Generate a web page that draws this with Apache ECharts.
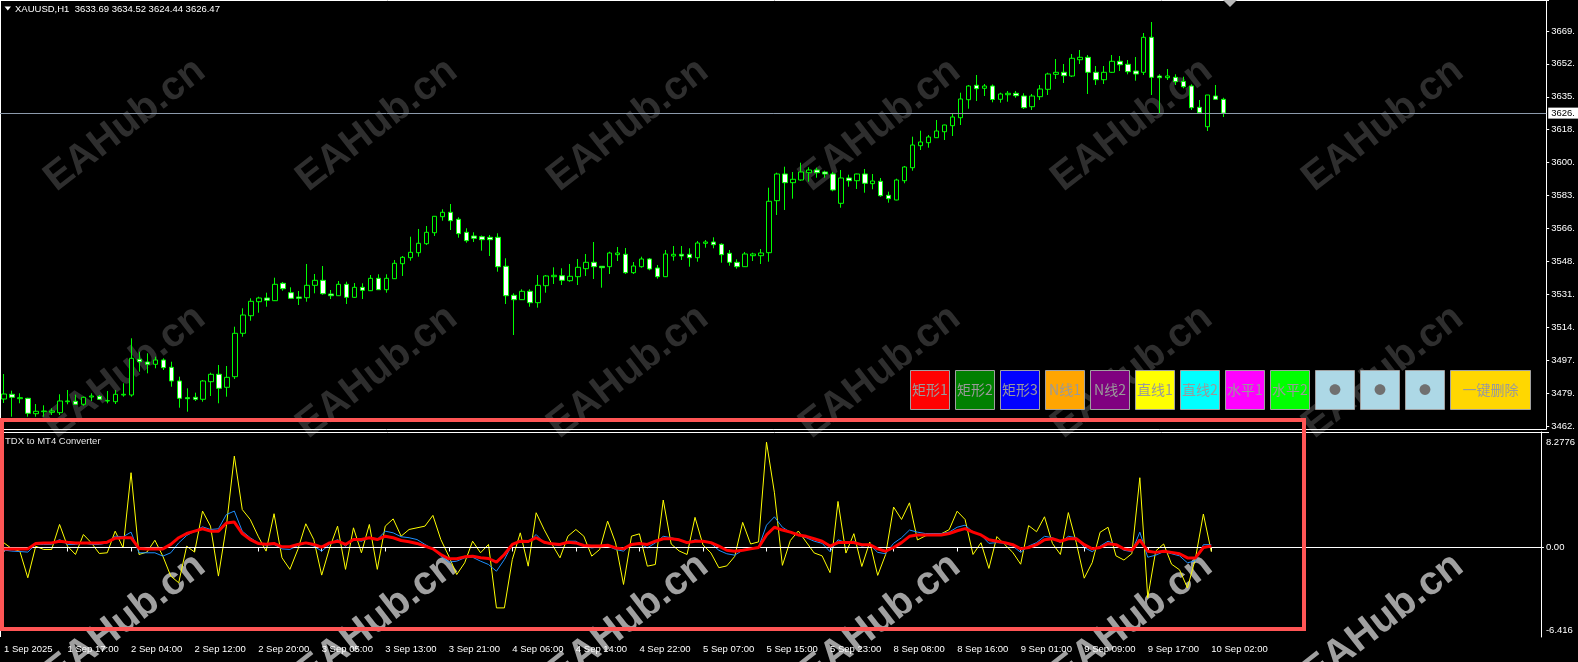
<!DOCTYPE html>
<html>
<head>
<meta charset="utf-8">
<script src="https://cdn.jsdelivr.net/npm/echarts@6/dist/echarts.min.js"></script>
<style>
html,body{margin:0;padding:0;background:#000;}
#chart{width:1578px;height:662px;}
</style>
</head>
<body>
<div id="chart"></div>
<script>
// ---------- DATA ----------
const timeLabels = ['1 Sep 2025','1 Sep 17:00','2 Sep 04:00','2 Sep 12:00','2 Sep 20:00','3 Sep 05:00','3 Sep 13:00','3 Sep 21:00','4 Sep 06:00','4 Sep 14:00','4 Sep 22:00','5 Sep 07:00','5 Sep 15:00','5 Sep 23:00','8 Sep 08:00','8 Sep 16:00','9 Sep 01:00','9 Sep 09:00','9 Sep 17:00','10 Sep 02:00'];
const barsPerLabel = 8;

const open = [3476.65,3479.12,3476.81,3477.02,3468.95,3470.00,3469.69,3469.48,3475.24,3475.45,
3473.88,3477.70,3478.07,3475.61,3475.24,3478.75,3478.75,3497.46,3496.04,3494.84,
3497.09,3493.26,3486.09,3477.34,3477.54,3476.50,3485.72,3489.60,3482.78,3488.34,
3511.08,3520.30,3527.64,3529.58,3528.17,3537.28,3532.36,3530.10,3529.73,3536.23,
3538.85,3531.67,3530.78,3536.76,3529.94,3535.18,3533.40,3539.90,3533.93,3539.69,
3547.55,3550.70,3553.32,3558.04,3563.80,3572.19,3574.50,3570.83,3564.01,3562.07,
3561.71,3561.39,3561.39,3546.20,3530.99,3528.69,3533.09,3527.12,3536.03,3540.75,
3541.27,3538.65,3540.75,3544.94,3548.29,3546.20,3545.99,3552.28,3552.49,3542.84,
3545.99,3550.02,3545.31,3540.75,3551.59,3552.49,3552.49,3550.70,3558.25,3558.93,
3557.73,3553.01,3548.29,3545.99,3551.75,3551.75,3553.32,3580.57,3594.57,3590.01,
3591.42,3595.25,3596.66,3595.62,3594.57,3579.21,3592.47,3591.05,3594.57,3589.49,
3590.74,3583.40,3580.94,3591.05,3597.87,3609.40,3610.97,3613.59,3616.73,3619.88,
3624.07,3633.50,3641.05,3639.48,3640.68,3633.71,3636.12,3636.86,3635.44,3629.83,
3635.08,3638.95,3646.81,3647.86,3645.92,3654.46,3655.72,3647.86,3643.98,3647.86,
3653.63,3652.05,3648.54,3647.86,3666.20,3645.92,3645.03,3645.24,3643.15,3640.68,
3629.52,3619.35,3635.44,3633.69];
const close = [3479.27,3477.54,3477.34,3469.16,3470.21,3470.37,3470.37,3475.61,3475.61,3473.88,
3477.54,3478.23,3476.50,3475.82,3479.12,3479.12,3497.98,3496.20,3494.84,3497.09,
3493.06,3486.09,3477.02,3476.81,3476.50,3486.09,3489.60,3482.26,3488.02,3511.08,
3520.67,3527.85,3529.58,3528.38,3536.76,3534.45,3529.42,3529.42,3536.23,3538.85,
3531.83,3530.78,3536.76,3529.94,3535.18,3533.61,3539.90,3533.93,3539.90,3547.76,
3550.91,3553.53,3558.25,3564.01,3572.40,3574.50,3570.09,3563.28,3559.61,3560.87,
3560.14,3560.14,3545.99,3530.78,3528.69,3533.09,3527.12,3536.23,3541.12,3541.48,
3538.85,3540.96,3545.67,3548.29,3545.99,3545.47,3553.17,3553.17,3542.84,3546.35,
3550.02,3544.78,3540.75,3552.64,3552.49,3551.59,3550.70,3558.41,3558.93,3557.52,
3552.28,3548.29,3545.99,3552.64,3552.64,3553.17,3580.26,3594.57,3590.01,3591.79,
3595.62,3596.66,3595.25,3594.57,3586.18,3592.47,3591.05,3594.57,3589.70,3590.90,
3583.20,3581.62,3591.42,3598.23,3609.76,3611.34,3613.95,3617.10,3620.24,3624.44,
3633.87,3640.68,3639.27,3640.68,3633.61,3636.49,3636.86,3635.60,3629.31,3635.44,
3639.11,3646.97,3647.86,3646.08,3655.20,3655.72,3647.86,3643.98,3647.86,3653.63,
3651.85,3648.18,3646.97,3666.20,3645.24,3645.03,3645.92,3642.94,3640.31,3629.31,
3626.69,3635.97,3633.71,3626.47];
const low = [3474.56,3467.38,3474.40,3467.38,3467.38,3467.38,3468.27,3468.27,3473.88,3473.51,
3473.14,3475.61,3476.13,3474.40,3474.03,3477.86,3477.86,3490.96,3490.12,3492.74,
3491.85,3483.10,3472.10,3470.00,3475.61,3475.24,3478.23,3474.40,3477.86,3487.13,
3509.30,3517.68,3521.87,3525.02,3528.01,3533.40,3529.05,3525.91,3527.64,3532.04,
3531.31,3529.05,3530.63,3526.43,3529.58,3529.05,3533.24,3533.77,3532.36,3539.53,
3541.12,3549.13,3551.23,3557.36,3562.07,3570.09,3565.22,3561.19,3558.56,3558.93,
3554.37,3551.59,3543.37,3526.43,3510.19,3528.54,3525.02,3524.50,3532.36,3536.92,
3536.39,3538.12,3536.39,3541.12,3539.53,3534.98,3542.16,3548.97,3542.16,3542.16,
3545.47,3544.10,3539.70,3540.59,3549.13,3549.50,3545.99,3548.61,3555.94,3555.63,
3548.08,3546.51,3544.94,3545.83,3548.97,3547.40,3548.61,3573.08,3575.70,3581.62,
3591.05,3590.53,3592.63,3592.63,3585.50,3576.91,3587.91,3586.71,3584.77,3586.55,
3582.67,3579.53,3580.79,3589.70,3596.30,3607.14,3608.35,3613.50,3612.38,3614.48,
3620.24,3628.79,3632.82,3635.44,3632.14,3631.93,3632.45,3634.55,3628.63,3628.10,
3633.35,3635.97,3644.35,3642.25,3645.40,3652.21,3636.49,3641.21,3641.73,3647.49,
3648.54,3646.81,3643.46,3646.45,3635.97,3626.37,3643.83,3641.21,3639.48,3628.10,
3626.01,3617.10,3633.71,3624.44];
const high = [3489.75,3481.00,3479.64,3477.30,3474.03,3473.35,3471.78,3479.12,3481.37,3478.91,
3477.86,3479.64,3478.75,3480.85,3481.37,3484.88,3508.46,3501.44,3500.60,3498.82,
3497.98,3496.20,3488.34,3482.26,3479.96,3486.61,3490.43,3494.47,3493.95,3514.54,
3524.18,3529.42,3530.26,3532.36,3540.22,3537.97,3535.18,3533.24,3547.40,3542.16,
3546.35,3533.77,3538.49,3538.12,3537.44,3537.28,3541.63,3542.00,3542.00,3549.50,
3551.59,3561.71,3565.75,3567.32,3572.55,3576.07,3578.84,3571.88,3566.11,3564.01,
3562.34,3562.60,3563.49,3550.39,3532.04,3534.14,3534.14,3541.63,3541.63,3545.67,
3545.15,3547.40,3550.02,3552.64,3558.93,3546.35,3553.85,3556.31,3555.79,3548.45,
3551.23,3550.54,3546.88,3554.74,3556.84,3556.84,3555.63,3559.46,3559.98,3561.39,
3558.25,3554.74,3549.86,3553.69,3553.32,3555.26,3587.39,3595.25,3598.39,3595.62,
3600.49,3598.08,3597.87,3596.30,3595.62,3596.66,3594.20,3594.72,3597.19,3594.57,
3592.47,3585.29,3592.10,3598.76,3614.11,3617.26,3615.00,3622.86,3620.40,3626.38,
3637.17,3641.21,3646.45,3641.73,3641.47,3637.17,3638.06,3638.06,3636.86,3636.49,
3641.21,3647.65,3654.83,3652.21,3657.45,3659.55,3656.93,3651.16,3651.16,3656.93,
3656.40,3654.31,3655.88,3668.46,3674.22,3646.81,3649.59,3646.81,3645.56,3641.57,
3633.35,3635.97,3641.21,3634.52];

// indicator "TDX to MT4 Converter" buffers
const yellowLine = [0.33,-0.09,-0.27,-2.17,0.09,-0.14,-0.14,1.65,0.09,-0.50,
0.93,0.33,-0.43,-0.38,1.17,-0.03,5.36,-0.50,-0.33,0.52,
-0.62,-2.05,-2.53,0.09,-0.33,2.61,1.53,-2.05,1.53,6.55,
2.72,2.01,0.81,-0.26,2.42,-0.74,-1.57,-0.14,1.70,0.57,
-1.98,-0.03,1.53,-1.57,1.41,-0.38,1.65,-1.57,1.53,2.05,
0.81,1.29,1.41,1.53,2.30,0.57,-0.62,-1.94,-1.10,0.45,
-0.38,0.22,-4.33,-4.33,-0.86,1.05,-1.34,2.49,1.29,0.22,
-0.74,0.81,1.29,0.81,-0.62,-0.14,1.89,0.33,-2.65,0.81,
0.98,-1.34,-1.22,3.40,0.25,-0.25,-0.50,2.16,0.19,-0.39,
-1.45,-1.32,-0.64,1.80,0.25,0.40,7.55,3.92,-1.28,0.50,
1.18,0.39,-0.39,-0.60,-1.80,3.30,-0.40,0.99,-1.36,0.39,
-2.00,-0.50,2.90,2.01,3.20,0.54,0.83,0.98,0.98,1.28,
2.60,2.01,-0.50,0.34,-1.50,0.78,0.21,-0.35,-1.20,1.57,
1.13,2.20,0.29,-0.50,2.50,0.35,-2.20,-1.09,1.09,1.45,
-0.60,-0.90,-0.44,5.00,-3.60,-0.25,0.25,-1.20,-1.60,-2.90,
-0.79,2.40,-0.30];
const blueLine = [-0.19,-0.26,-0.29,-0.33,0.22,0.22,0.22,0.57,0.22,0.22,
0.33,0.22,0.22,0.33,0.81,0.77,1.10,-0.38,-0.38,-0.38,
-0.62,-0.38,0.33,0.86,1.17,1.48,1.29,1.34,2.36,2.61,
1.17,0.70,0.33,0.16,0.22,-0.10,-0.14,0.14,0.33,0.10,
-0.26,0.22,0.57,0.10,0.57,0.45,0.70,0.57,1.17,1.05,
0.77,0.70,0.57,0.22,-0.10,-0.62,-1.05,-0.98,-0.74,-0.70,
-0.98,-1.22,-1.70,-0.86,0.22,0.45,0.38,0.93,0.33,0.22,
0.14,0.45,0.45,0.10,-0.03,0.05,0.10,-0.14,-0.26,0.22,
0.29,-0.03,0.33,0.80,0.70,0.55,0.30,0.55,0.45,0.30,
-0.20,-0.45,-0.55,-0.20,-0.10,0.00,1.60,2.20,1.45,1.10,
0.90,0.70,0.45,0.30,-0.30,0.55,0.35,0.45,0.10,0.20,
-0.35,-0.45,0.30,0.70,1.25,1.10,1.00,1.00,1.00,1.10,
1.45,1.60,1.10,0.90,0.30,0.35,0.30,0.10,-0.35,0.10,
0.35,0.80,0.70,0.35,0.80,0.70,0.00,-0.30,0.10,0.45,
0.20,-0.20,-0.30,1.10,-0.70,-0.55,-0.30,-0.45,-0.60,-1.10,
-0.95,0.20,0.20];
const redLine = [-0.10,-0.10,-0.10,-0.10,0.29,0.33,0.33,0.45,0.38,0.33,
0.33,0.33,0.33,0.38,0.67,0.70,0.70,-0.07,-0.10,-0.10,
-0.10,0.22,0.70,1.00,1.17,1.34,1.17,1.17,1.76,1.82,
1.00,0.57,0.29,0.24,0.29,0.05,0.05,0.22,0.33,0.22,
0.03,0.33,0.45,0.22,0.57,0.57,0.70,0.57,0.81,0.70,
0.50,0.41,0.29,0.10,-0.10,-0.50,-0.81,-0.81,-0.67,-0.62,
-0.74,-0.79,-1.05,-0.50,0.22,0.45,0.43,0.70,0.38,0.26,
0.22,0.38,0.33,0.14,0.10,0.10,0.16,-0.03,-0.10,0.22,
0.29,0.22,0.45,0.63,0.63,0.55,0.35,0.45,0.45,0.35,
0.10,-0.20,-0.27,-0.20,-0.10,0.00,0.90,1.45,1.25,1.10,
0.90,0.80,0.63,0.45,0.10,0.35,0.35,0.35,0.20,0.20,
-0.10,-0.27,0.00,0.35,0.80,0.90,0.90,0.90,0.90,1.00,
1.20,1.35,1.10,0.90,0.55,0.45,0.35,0.20,-0.10,0.00,
0.20,0.55,0.63,0.45,0.63,0.63,0.20,-0.10,0.00,0.27,
0.20,-0.10,-0.20,0.55,-0.27,-0.35,-0.27,-0.35,-0.45,-0.75,
-0.75,0.00,0.10];

// axis ticks
const priceTickValues = [3462.5,3479.8,3497.0,3514.3,3531.5,3548.8,3566.0,3583.3,3600.5,3617.8,3635.0,3652.3,3669.5];
const priceTickLabels = ['3462.','3479.','3497.','3514.','3531.','3548.','3566.','3583.','3600.','3618.','3635.','3652.','3669.'];
const indMin = -6.416, indMax = 8.2776;
const indLabelPos = [-5.95, 0, 7.5];
const indLabelText = ['-6.416', '0.00', '8.2776'];
const priceMin = 3460.93, priceMax = 3685.75;

const titleText = 'XAUUSD,H1  3633.69 3634.52 3624.44 3626.47';
const indicatorName = 'TDX to MT4 Converter';
const buttonLabels = ['矩形1','矩形2','矩形3','N线1','N线2','直线1','直线2','水平1','水平2','●','●','●','一键删除'];
const buttonColors = ['#ff0000','#008000','#0000ff','#ffa500','#800080','#ffff00','#00ffff','#ff00ff','#00ff00','#add8e6','#add8e6','#add8e6','#ffd700'];
const watermarkText = 'EAHub.cn';

// ---------- BUILD ----------
const slotCount = 194; // bar slots across the chart width
const categories = Array.from({length: slotCount}, (_, i) => String(i));
const candleData = open.map((o, i) => [o, close[i], low[i], high[i]]);
const lastClose = close[close.length - 1];
const FONT = 'Liberation Sans, Arial, sans-serif';
const isLabelBar = (i) => i % barsPerLabel === 0 && i / barsPerLabel < timeLabels.length;

const graphics = [];
// watermarks
const wmCols = [125, 377, 628, 880, 1132, 1383];
const wmRows = [{y: 125, c: '#2e2e2e'}, {y: 372, c: '#2e2e2e'}, {y: 620, c: '#a0a0a0'}];
wmRows.forEach(r => wmCols.forEach(cx => {
  graphics.push({type: 'text', x: cx, y: r.y, rotation: 0.66, z: 0, silent: true,
    style: {text: watermarkText, fill: r.c, font: 'bold 40px Liberation Sans, Arial, sans-serif', textAlign: 'center', textVerticalAlign: 'middle'}});
}));
// frames
const white = '#ffffff';
[[0,0.5,1549,0.5],[0.5,0,0.5,429],[0.5,432,0.5,637],[0,432.5,1549,432.5]].forEach(l => {
  graphics.push({type: 'line', z: 5, silent: true, shape: {x1: l[0], y1: l[1], x2: l[2], y2: l[3]}, style: {stroke: white, lineWidth: 1}});
});
// title
graphics.push({type: 'polygon', z: 10, shape: {points: [[4.5,6.5],[11,6.5],[7.75,10.5]]}, style: {fill: '#fff'}});
graphics.push({type: 'text', x: 15, y: 9, z: 10, style: {text: titleText, fill: '#fff', font: '9.5px ' + FONT, textVerticalAlign: 'middle'}});
graphics.push({type: 'polygon', z: 10, shape: {points: [[1223,0],[1237,0],[1230,7]]}, style: {fill: '#b8b8b8'}});
graphics.push({type: 'text', x: 5, y: 441, z: 10, style: {text: indicatorName, fill: '#e6e6e6', font: '9.5px ' + FONT, textVerticalAlign: 'middle'}});
// buttons
buttonLabels.forEach((t, k) => {
  const x = 910 + 45 * k;
  const w = k === buttonLabels.length - 1 ? 80 : 39;
  graphics.push({type: 'rect', z: 50, shape: {x: x + 0.5, y: 370.5, width: w, height: 39}, style: {fill: buttonColors[k], stroke: '#a0a0a0', lineWidth: 1}});
  graphics.push({type: 'text', z: 51, x: x + w / 2 + 0.5, y: 390, style: {text: t, fill: t === '●' ? '#707070' : '#9a9a9a',
    font: (t === '●' ? '12px ' : '14px ') + 'Noto Sans CJK SC, sans-serif', textAlign: 'center', textVerticalAlign: 'middle'}});
});
// annotation rectangle
graphics.push({type: 'rect', z: 100, silent: true, shape: {x: 2, y: 420, width: 1302, height: 209}, style: {fill: null, stroke: '#ff5555', lineWidth: 4}});

const option = {
  backgroundColor: '#000',
  animation: false,
  grid: [
    {left: -3, right: 29, top: 0, height: 429},
    {left: -3, right: 29, top: 432, height: 205}
  ],
  xAxis: [
    {type: 'category', gridIndex: 0, data: categories, boundaryGap: true,
     axisLine: {show: true, lineStyle: {color: white, width: 1}}, axisTick: {show: false}, axisLabel: {show: false}, splitLine: {show: false}},
    {type: 'category', gridIndex: 1, data: categories, boundaryGap: true,
     axisLine: {show: true, lineStyle: {color: white, width: 1}},
     axisTick: {show: true, alignWithLabel: true, interval: (i) => isLabelBar(i), length: 4, lineStyle: {color: white}},
     axisLabel: {show: true, interval: (i) => isLabelBar(i), formatter: (v, i) => timeLabels[Math.round(Number(v) / barsPerLabel)] || '',
       align: 'left', color: white, fontSize: 9.5, fontFamily: FONT, margin: 7},
     splitLine: {show: false}}
  ],
  yAxis: [
    {type: 'value', gridIndex: 0, position: 'right', min: priceMin, max: priceMax,
     axisLine: {show: true, lineStyle: {color: white}}, splitLine: {show: false},
     axisTick: {show: true, customValues: priceTickValues, length: 3, lineStyle: {color: white}},
     axisLabel: {show: true, customValues: priceTickValues, color: white, fontSize: 9.5, fontFamily: FONT, margin: 5,
       formatter: (v) => { const k = priceTickValues.findIndex(t => Math.abs(t - v) < 0.01); return k >= 0 ? priceTickLabels[k] : ''; }}},
    {type: 'value', gridIndex: 1, position: 'right', min: indMin, max: indMax,
     axisLine: {show: true, lineStyle: {color: white}}, splitLine: {show: false},
     axisTick: {show: true, customValues: [0], length: 3, lineStyle: {color: white}},
     axisLabel: {show: true, customValues: indLabelPos, color: white, fontSize: 9.5, fontFamily: FONT, margin: 5,
       formatter: (v) => { const k = indLabelPos.findIndex(t => Math.abs(t - v) < 0.001); return k >= 0 ? indLabelText[k] : ''; }}}
  ],
  series: [
    {type: 'candlestick', xAxisIndex: 0, yAxisIndex: 0, data: candleData, barWidth: 5, z: 3,
     itemStyle: {color: '#000000', color0: '#ffffff', borderColor: '#00ff00', borderColor0: '#00ff00', borderWidth: 1},
     markLine: {silent: true, symbol: ['none', 'none'], animation: false,
       data: [{yAxis: lastClose}],
       lineStyle: {color: '#8c9aab', width: 1, type: 'solid'},
       label: {show: true, position: 'end', distance: 2, formatter: () => Math.floor(lastClose) + '.',
         color: '#000', backgroundColor: '#fff', padding: [1, 3, 0, 3], fontSize: 9.5, fontFamily: FONT}}},
    {type: 'line', xAxisIndex: 1, yAxisIndex: 1, data: yellowLine, symbol: 'none', z: 3,
     lineStyle: {color: '#ffff00', width: 1}, itemStyle: {color: '#ffff00'},
     markLine: {silent: true, symbol: ['none', 'none'], animation: false, data: [{yAxis: 0}],
       lineStyle: {color: '#ffffff', width: 1, type: 'solid'}, label: {show: false}}},
    {type: 'line', xAxisIndex: 1, yAxisIndex: 1, data: blueLine, symbol: 'none', z: 4,
     lineStyle: {color: '#1e90ff', width: 1}, itemStyle: {color: '#1e90ff'}},
    {type: 'line', xAxisIndex: 1, yAxisIndex: 1, data: redLine, symbol: 'none', z: 5,
     lineStyle: {color: '#ff0000', width: 3}, itemStyle: {color: '#ff0000'}}
  ],
  graphic: graphics
};

const chart = echarts.init(document.getElementById('chart'), null, {renderer: 'canvas'});
chart.setOption(option);
</script>
</body>
</html>
